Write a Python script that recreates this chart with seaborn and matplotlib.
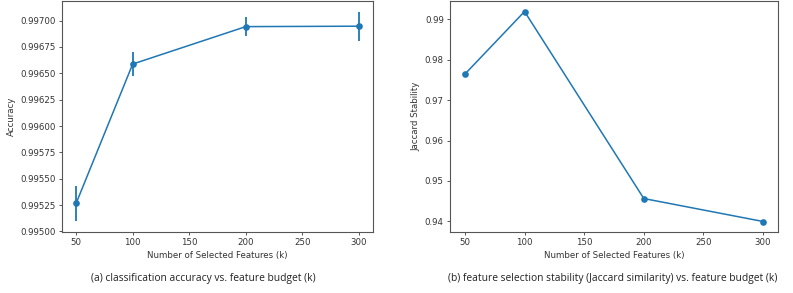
import matplotlib
matplotlib.use("Agg")
import matplotlib.pyplot as plt
import seaborn as sns
import pandas as pd

k_values = [50, 100, 200, 300]
accuracy = [0.995267, 0.996588, 0.996943, 0.996947]
accuracy_err = [0.000165, 0.000115, 0.000093, 0.000137]
jaccard = [0.97646, 0.99198, 0.94562, 0.93993]

xlabel = "Number of Selected Features (k)"
caption_a = "(a) classification accuracy vs. feature budget (k)"
caption_b = "(b) feature selection stability (Jaccard similarity) vs. feature budget (k)"

sns.set_style("ticks")
plt.rcParams["font.family"] = ["DejaVu Sans"]

color = "#1f77b4"
text_col = "#333333"
spine_col = "#555555"

fig = plt.figure(figsize=(7.93, 2.93), dpi=100)
W, H = 793, 293
ax1 = fig.add_axes([62 / W, (H - 232) / H, (373 - 62) / W, 231 / H])
ax2 = fig.add_axes([450 / W, (H - 232) / H, (778 - 450) / W, 231 / H])

df = pd.DataFrame({"k": k_values, "acc": accuracy, "err": accuracy_err, "jac": jaccard})

sns.lineplot(data=df, x="k", y="acc", marker="o", color=color, ax=ax1,
             linewidth=1.1, markersize=4.8, markeredgewidth=0)
ax1.errorbar(df["k"], df["acc"], yerr=df["err"], fmt="none", ecolor=color, elinewidth=1.3)
sns.lineplot(data=df, x="k", y="jac", marker="o", color=color, ax=ax2,
             linewidth=1.1, markersize=4.8, markeredgewidth=0)

fs = 6.2
ax1.set_ylabel("Accuracy", fontsize=fs, color=text_col, labelpad=3)
ax2.set_ylabel("Jaccard Stability", fontsize=fs, color=text_col, labelpad=3)
ax1.yaxis.set_major_formatter(matplotlib.ticker.FormatStrFormatter("%.5f"))
ax2.yaxis.set_major_formatter(matplotlib.ticker.FormatStrFormatter("%.2f"))
for ax in (ax1, ax2):
    ax.set_xlabel(xlabel, fontsize=fs, color=text_col, labelpad=3)
    ax.set_xticks([50, 100, 150, 200, 250, 300])
    ax.tick_params(labelsize=fs, colors=text_col, length=2.5, width=0.7, pad=2, color=spine_col)
    for s in ax.spines.values():
        s.set_visible(True)
        s.set_color(spine_col)
        s.set_linewidth(0.8)
    ax.grid(False)
    ax.margins(x=0.05, y=0.05)
ax1.set_ylim(0.994995, 0.997186)
ax1.set_yticks([0.995, 0.99525, 0.9955, 0.99575, 0.996, 0.99625, 0.9965, 0.99675, 0.997])
ax2.set_yticks([0.94, 0.95, 0.96, 0.97, 0.98, 0.99])

fig.text(203 / W, 1 - 279 / H, caption_a, ha="center", va="center", fontsize=7.4,
         color="#222222", family=["Open Sans", "DejaVu Sans"])
fig.text(613 / W, 1 - 279 / H, caption_b, ha="center", va="center", fontsize=7.4,
         color="#222222", family=["Open Sans", "DejaVu Sans"])

fig.savefig("out.png", dpi=100, facecolor="white")
